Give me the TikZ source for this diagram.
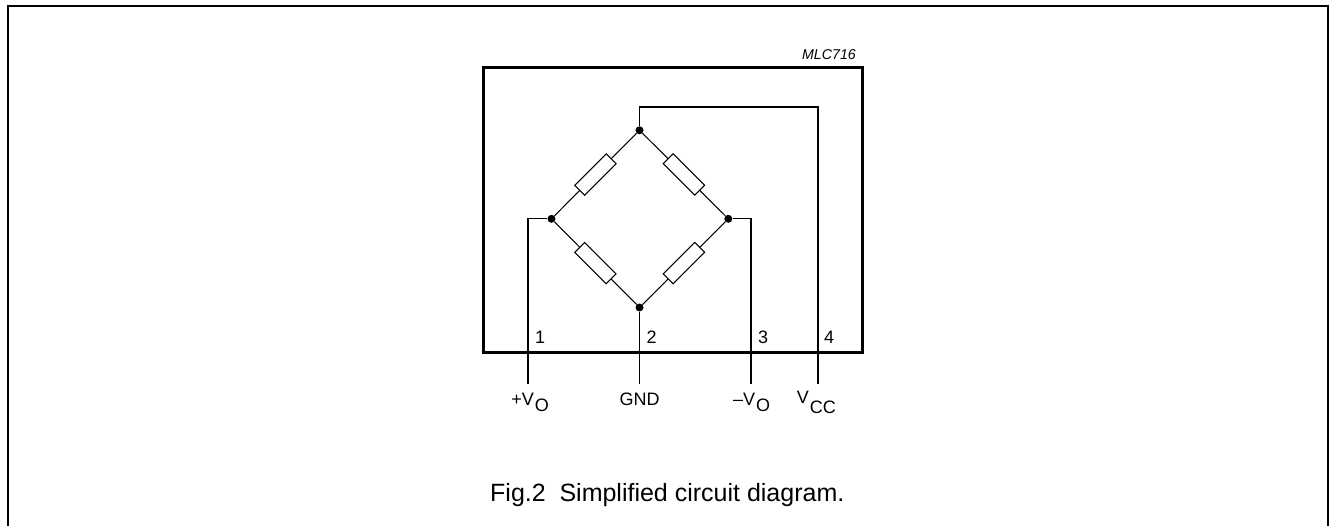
\documentclass[tikz,border=0pt]{standalone}
\usepackage{fontspec}
\setmainfont{Liberation Sans}
\newcommand{\lblfont}{\fontsize{18}{20}\selectfont}
\tikzset{
  wire/.style={line width=1.05pt,line cap=butt},
  junction/.style={circle,fill=black,draw=none,inner sep=0pt,minimum size=8pt},
  resistor/.style={rectangle,draw=black,fill=white,line width=1.05pt,inner sep=0pt,minimum width=44.5pt,minimum height=14pt},
  lbl/.style={anchor=base,inner sep=0pt,font=\lblfont},
  lblw/.style={anchor=base west,inner sep=0pt,font=\lblfont},
  package/.style={draw=black,line width=2.6pt,line join=miter},
  frame/.style={draw=black,line width=2pt}
}
\begin{document}
\begin{tikzpicture}[x=1pt,y=-1pt]
\useasboundingbox (0,0) rectangle (1329,526);
\coordinate (fbl) at (7.5,527);
\coordinate (ftl) at (7.5,6.5);
\coordinate (ftr) at (1327.5,6.5);
\coordinate (fbr) at (1327.5,527);
\draw[frame] (fbl) -- (ftl) -- (ftr) -- (fbr);
% junctions
\node[junction] (top) at (639.5,130.3) {};
\node[junction] (left) at (551.5,218.8) {};
\node[junction] (right) at (728.3,218.8) {};
\node[junction] (bot) at (639.5,307.5) {};
% bridge
\draw[wire] (top) -- (left);
\draw[wire] (top) -- (right);
\draw[wire] (bot) -- (left);
\draw[wire] (bot) -- (right);
\node[resistor,rotate=45] (r1) at (595.4,174.5) {};
\node[resistor,rotate=-45] (r2) at (683.9,174.5) {};
\node[resistor,rotate=-45] (r3) at (595.4,263.1) {};
\node[resistor,rotate=45] (r4) at (683.9,263.1) {};
% package
\node[package,rectangle,minimum width=379pt,minimum height=284.8pt,inner sep=0pt,anchor=north west,outer sep=0pt] (pkg) at (483.3,67.5) {};
% pins
\coordinate (p1end) at (528,383.5);
\coordinate (p2end) at (639.5,383.5);
\coordinate (p3end) at (751,383.5);
\coordinate (p4end) at (818,383.5);
\coordinate (p1c) at (528,218.8);
\coordinate (p3c) at (751,218.8);
\coordinate (t1) at (639.5,107);
\coordinate (t2) at (818,107);
\draw[wire] (left) -- (p1c) -- (p1end);
\draw[wire] (bot) -- (p2end);
\draw[wire] (right) -- (p3c) -- (p3end);
\draw[wire,line join=miter] (top) -- (t1) -- (t2) -- (p4end);
% labels
\node[anchor=base east,inner sep=0pt,font=\fontsize{14.2}{16}\selectfont\itshape] (tag) at (856,60) {MLC716};
\node[lbl] (n1) at (540,343.3) {1};
\node[lbl] (n2) at (651.7,343.3) {2};
\node[lbl] (n3) at (763,343.3) {3};
\node[lbl] (n4) at (829,343.3) {4};
\node[lblw] (vp) at (511.2,405) {+V};
\node[lblw] (vpo) at (vp.base east) [yshift=-6pt,xshift=0.5pt] {O};
\node[lbl] (gnd) at (639.5,405) {GND};
\node[lblw] (vm) at (733,405) {–V};
\node[lblw] (vmo) at (vm.base east) [yshift=-6pt,xshift=0.5pt] {O};
\node[lblw] (vc) at (796.7,403) {V};
\node[lblw] (vcc) at (vc.base east) [yshift=-10pt,xshift=0.5pt] {CC};
\node[anchor=base west,inner sep=0pt,font=\fontsize{25}{28}\selectfont] (cap) at (490,501.7) {Fig.2\hspace{0.55em}Simplified circuit diagram.};
\end{tikzpicture}
\end{document}
